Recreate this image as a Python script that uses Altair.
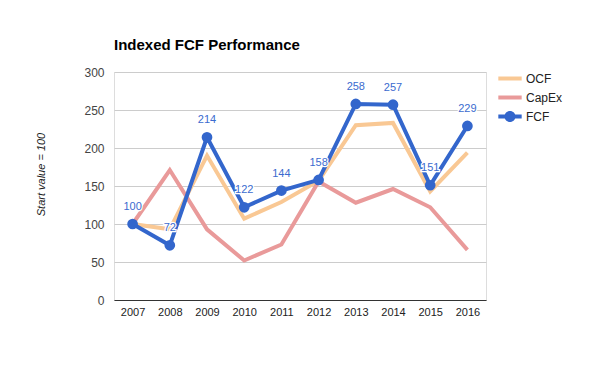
import altair as alt
import pandas as pd

years = ["2007", "2008", "2009", "2010", "2011", "2012", "2013", "2014", "2015", "2016"]
ocf = [100, 93, 190, 107, 129, 157, 230, 233, 143, 194]
capex = [100, 171, 93, 52, 73, 156, 128, 146, 122, 66]
fcf = [100, 72, 214, 122, 144, 158, 258, 257, 151, 229]

series_names = ["OCF", "CapEx", "FCF"]
series_colors = ["#f9c894", "#e99a9a", "#3366cc"]

rows = []
for name, vals in zip(series_names, [ocf, capex, fcf]):
    for y, v in zip(years, vals):
        rows.append({"year": y, "value": v, "series": name})
df = pd.DataFrame(rows)

FONT = "Liberation Sans"

x_enc = alt.X("year:O", scale=alt.Scale(type="point", padding=0.5),
              axis=alt.Axis(title=None, labelAngle=0, labelFontSize=11, labelColor="#222",
                            ticks=False, grid=False, domainColor="#333", domainWidth=1,
                            labelPadding=6, labelFont=FONT))
y_enc = alt.Y("value:Q", scale=alt.Scale(domain=[0, 300], nice=False),
              axis=alt.Axis(title="Start value = 100", values=[0, 50, 100, 150, 200, 250, 300],
                            labelOverlap=False, tickCount=7,
                            labelFontSize=12, labelColor="#444", labelFont=FONT,
                            ticks=False, domain=False, gridColor="#cccccc",
                            labelPadding=10, titleFont=FONT, titleFontSize=11,
                            titleFontStyle="italic", titleFontWeight="normal",
                            titleColor="#222", titleAngle=-90, titleX=-73, titleY=102,
                            titleAlign="center", titleBaseline="middle"))

color_scale = alt.Scale(domain=series_names, range=series_colors)

base = alt.Chart(df).encode(x=x_enc, y=y_enc)

lines = base.mark_line(strokeWidth=4).encode(
    color=alt.Color("series:N", scale=color_scale, legend=None),
    order=alt.Order("year:O"),
    detail="series:N",
)

fcf_base = base.transform_filter(alt.datum.series == "FCF")

points = fcf_base.mark_point(filled=True, size=115, opacity=1, fill="#3366cc", stroke=None)

halo = fcf_base.mark_text(font=FONT, fontSize=11, dy=-14, baseline="alphabetic",
                          stroke="white", strokeWidth=2.5, fill="white").encode(text="value:Q")
labels = fcf_base.mark_text(font=FONT, fontSize=11, dy=-14, baseline="alphabetic",
                            fill="#3b6bcf").encode(text="value:Q")

line_path = "M-1.46,-0.25H1.46V0.25H-1.46Z"
dot_path = "M-1.46,-0.25H1.46V0.25H-1.46Z M0.69,0A0.69,0.69 0 1,1 -0.69,0A0.69,0.69 0 1,1 0.69,0Z"

leg = alt.Legend(title=None, orient="none", legendX=388, legendY=-1.5,
                 symbolSize=256, symbolOpacity=1, symbolStrokeWidth=0,
                 labelFont=FONT, labelFontSize=12, labelColor="#222",
                 labelOffset=8, rowPadding=5, padding=0)

legend_layer = base.mark_point(filled=True, opacity=0).encode(
    color=alt.Color("series:N", scale=color_scale, legend=leg),
    shape=alt.Shape("series:N", scale=alt.Scale(domain=series_names,
                                                range=[line_path, line_path, dot_path]),
                    legend=leg),
)

chart = alt.layer(lines, points, halo, labels, legend_layer).resolve_legend(
    color="independent", shape="independent"
).properties(
    width=372, height=228,
    title=alt.TitleParams("Indexed FCF Performance", anchor="start", frame="group",
                          font=FONT, fontSize=15, fontWeight="bold", color="#000",
                          offset=1, baseline="alphabetic"),
    autosize=alt.AutoSizeParams(type="none"),
    padding={"left": 106, "top": 64, "right": 100, "bottom": 55},
).configure_view(stroke=None).configure(background="white")

chart.save("out.html", embed_options={"renderer": "svg", "actions": False})
